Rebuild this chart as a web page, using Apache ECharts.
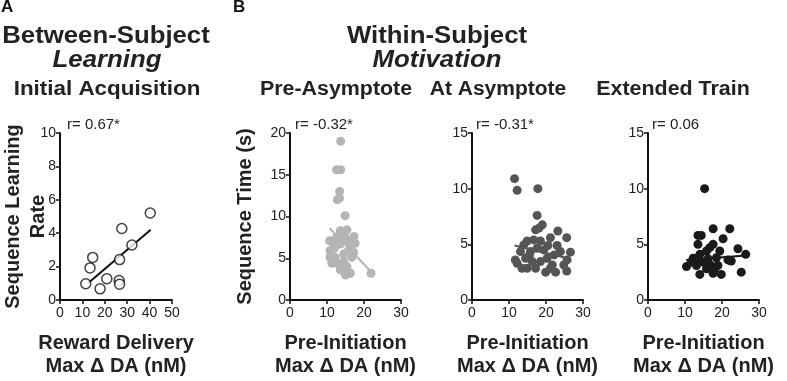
<!DOCTYPE html>
<html>
<head>
<meta charset="utf-8">
<script src="https://cdn.jsdelivr.net/npm/echarts@6/dist/echarts.min.js"></script>
<style>
  html, body { margin:0; padding:0; background:#fff; }
  #chart { width:787px; height:381px; }
</style>
</head>
<body>
<div id="chart"></div>
<script>
// --- data
const learnPoints = [
  [11.5, 0.97], [13.4, 1.92], [14.6, 2.55], [17.9, 0.67], [20.9, 1.27],
  [26.4, 1.17], [26.6, 0.95], [26.6, 2.42], [27.6, 4.28], [32.1, 3.29], [40.3, 5.21]
];
const learnFit = [[12.5, 1.0], [40.5, 4.2]];

const preAsymPoints = [
  [13.7, 19.0], [12.6, 15.6], [13.7, 15.6], [13.4, 13.0], [13.4, 12.2], [12.8, 12.0],
  [14.9, 10.1], [10.8, 5.9], [10.7, 7.1], [13.6, 8.3], [17.3, 7.6], [17.6, 6.8],
  [16.7, 5.1], [21.9, 3.2], [12.6, 4.4], [13.6, 3.6], [14.9, 3.2], [16.3, 3.2],
  [15.4, 4.0], [12.2, 5.1], [14.5, 5.5], [15.8, 5.9], [13.6, 6.7], [14.9, 7.5],
  [12.6, 7.5], [11.7, 6.7], [15.4, 8.4], [14.5, 8.0], [16.3, 6.3], [17.2, 5.7],
  [11.3, 4.4], [14.5, 4.6], [10.8, 5.1], [12.0, 6.2], [15.0, 3.0], [16.0, 7.0]
];
const preAsymFit = [[10.7, 8.6], [22.1, 3.3]];

const atAsymPoints = [
  [11.5, 10.9], [12.2, 9.85], [17.8, 10.0], [17.6, 7.6], [19.0, 6.75], [17.2, 6.3],
  [18.1, 6.45], [23.2, 6.2], [25.6, 5.6], [26.6, 4.3], [21.2, 5.6], [11.7, 3.6],
  [19.9, 2.5], [22.6, 2.5], [25.6, 2.6], [24.8, 3.15], [21.7, 3.15], [13.5, 2.85],
  [12.2, 3.3], [14.9, 5.3], [16.7, 5.4], [13.1, 4.35], [15.8, 4.35], [17.6, 4.65],
  [19.4, 4.5], [20.3, 3.75], [23.0, 4.9], [23.9, 4.35], [25.7, 3.6], [18.5, 3.45],
  [16.3, 3.45], [14.5, 3.75], [22.2, 4.05], [18.5, 5.3], [14.0, 4.95], [21.2, 2.85],
  [17.2, 2.85], [14.9, 2.85], [20.5, 4.9], [15.5, 4.0]
];
const atAsymFit = [[11.5, 4.9], [26.5, 3.7]];

const extendedPoints = [
  [15.3, 10.0], [13.5, 5.8], [14.4, 5.8], [17.6, 6.4], [22.1, 6.4], [20.3, 5.5],
  [24.3, 4.6], [26.4, 4.1], [25.2, 2.5], [13.5, 5.0], [10.4, 3.0], [14.0, 2.3],
  [19.8, 2.3], [17.6, 2.4], [12.2, 3.75], [14.0, 4.1], [15.8, 4.4], [17.6, 5.0],
  [16.7, 4.7], [18.5, 3.8], [14.9, 3.4], [16.7, 3.2], [13.1, 3.1], [18.9, 3.1],
  [15.8, 2.8], [18.0, 2.8], [21.6, 3.6], [22.5, 3.5], [11.7, 3.4], [19.4, 4.4],
  [16.2, 3.7], [13.8, 3.6]
];
const extendedFit = [[10.3, 3.6], [26.5, 4.0]];

const rLabels = ['r= 0.67*', 'r= -0.32*', 'r= -0.31*', 'r= 0.06'];
const panelTitles = ['Initial Acquisition', 'Pre-Asymptote', 'At Asymptote', 'Extended Train'];

const chart = echarts.init(document.getElementById('chart'), null, { renderer: 'canvas' });

const FONT = '"Liberation Sans", Arial, Helvetica, sans-serif';
// outerBoundsMode none: keep the grids where they are, names may sit near the edge
const grids = [
  { left: 60, top: 133, width: 112, height: 167, outerBoundsMode: 'none', containLabel: false },
  { left: 290, top: 133, width: 111, height: 167, outerBoundsMode: 'none', containLabel: false },
  { left: 472, top: 133, width: 111, height: 167, outerBoundsMode: 'none', containLabel: false },
  { left: 648, top: 133, width: 111, height: 167, outerBoundsMode: 'none', containLabel: false }
];

function xAxis(i, max, name) {
  return {
    gridIndex: i, type: 'value', min: 0, max: max, interval: 10,
    name: name, nameLocation: 'middle', nameGap: 32, nameMoveOverlap: false,
    nameTextStyle: { fontFamily: FONT, fontSize: 20, fontWeight: 'bold', color: '#222', lineHeight: 23 },
    axisLine: { lineStyle: { color: '#111', width: 2 } },
    axisTick: { length: 4, lineStyle: { color: '#111', width: 1.5 } },
    axisLabel: { fontFamily: FONT, fontSize: 14, color: '#222', margin: 6 },
    splitLine: { show: false }
  };
}
function yAxis(i, max, interval, name, gap) {
  return {
    gridIndex: i, type: 'value', min: 0, max: max, interval: interval,
    name: name, nameLocation: 'middle', nameGap: gap, nameRotate: 90, nameMoveOverlap: false,
    nameTextStyle: { fontFamily: FONT, fontSize: 20, fontWeight: 'bold', color: '#222', lineHeight: 25 },
    axisLine: { show: true, lineStyle: { color: '#111', width: 2 } },
    axisTick: { show: true, length: 4, lineStyle: { color: '#111', width: 1.5 } },
    axisLabel: { fontFamily: FONT, fontSize: 14, color: '#222', margin: 4 },
    splitLine: { show: false }
  };
}
function dots(i, data, color) {
  return {
    type: 'scatter', xAxisIndex: i, yAxisIndex: i, data: data,
    symbolSize: 9, itemStyle: { color: color, opacity: 1 }, animation: false, z: 2
  };
}
function fit(i, data, color) {
  return {
    type: 'line', xAxisIndex: i, yAxisIndex: i, data: data, showSymbol: false,
    lineStyle: { color: color, width: 2 }, animation: false, z: 3
  };
}
function txt(x, y, text, size, sx, italic) {
  return {
    type: 'text', x: x, y: y, scaleX: sx,
    style: {
      text: text, fill: '#222', textAlign: 'center', textVerticalAlign: 'middle',
      font: (italic ? 'italic ' : '') + 'bold ' + size + 'px ' + FONT
    }
  };
}
function rText(x, text) {
  return { type: 'text', x: x, y: 125, style: { text: text, fill: '#222', textVerticalAlign: 'middle', font: '15px ' + FONT } };
}

const option = {
  animation: false,
  backgroundColor: '#fff',
  grid: grids,
  xAxis: [
    xAxis(0, 50, 'Reward Delivery\nMax Δ DA (nM)'),
    xAxis(1, 30, 'Pre-Initiation\nMax Δ DA (nM)'),
    xAxis(2, 30, 'Pre-Initiation\nMax Δ DA (nM)'),
    xAxis(3, 30, 'Pre-Initiation\nMax Δ DA (nM)')
  ],
  yAxis: [
    yAxis(0, 10, 2, 'Sequence Learning\nRate', 9),
    yAxis(1, 20, 5, 'Sequence Time (s)', 32),
    yAxis(2, 15, 5, '', 30),
    yAxis(3, 15, 5, '', 30)
  ],
  series: [
    {
      type: 'scatter', xAxisIndex: 0, yAxisIndex: 0, data: learnPoints, symbolSize: 10,
      itemStyle: { color: '#fff', borderColor: '#111', borderWidth: 1.5 }, z: 4
    },
    fit(0, learnFit, '#111'),
    dots(1, preAsymPoints, '#b4b4b4'),
    fit(1, preAsymFit, '#b4b4b4'),
    dots(2, atAsymPoints, '#555555'),
    fit(2, atAsymFit, '#555555'),
    dots(3, extendedPoints, '#1a1a1a'),
    fit(3, extendedFit, '#1a1a1a')
  ],
  graphic: [
    { type: 'text', x: 1, y: 7, style: { text: 'A', fill: '#111', textVerticalAlign: 'middle', font: 'bold 17px ' + FONT } },
    { type: 'text', x: 233, y: 7, style: { text: 'B', fill: '#111', textVerticalAlign: 'middle', font: 'bold 17px ' + FONT } },
    txt(106, 37, 'Between-Subject', 23, 1.12),
    txt(107, 61, 'Learning', 23, 1.12, true),
    txt(107, 89, panelTitles[0], 20, 1.12),
    txt(437, 37, 'Within-Subject', 23, 1.12),
    txt(437, 61, 'Motivation', 23, 1.12, true),
    txt(336, 89, panelTitles[1], 20, 1.07),
    txt(498, 89, panelTitles[2], 20, 1.05),
    txt(673, 89, panelTitles[3], 20, 1.07),
    rText(67, rLabels[0]),
    rText(295, rLabels[1]),
    rText(476, rLabels[2]),
    rText(652, rLabels[3])
  ]
};

chart.setOption(option);
</script>
</body>
</html>
